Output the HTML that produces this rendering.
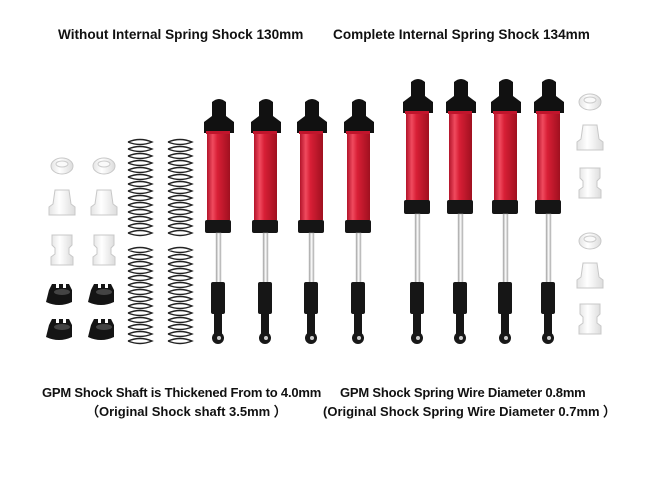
<!DOCTYPE html>
<html><head><style>
html,body{margin:0;padding:0;background:#fff;}
body{width:650px;height:488px;overflow:hidden;position:relative;font-family:"Liberation Sans",sans-serif;}
.t{position:absolute;font-weight:bold;font-size:13px;color:#111;white-space:nowrap;}
</style></head><body>
<svg width="650" height="488" style="position:absolute;left:0;top:0">
<defs>
<linearGradient id="red" x1="0" x2="1">
<stop offset="0" stop-color="#b3132a"/><stop offset="0.25" stop-color="#f04a5e"/><stop offset="0.45" stop-color="#d81f36"/><stop offset="1" stop-color="#a0101f"/>
</linearGradient>
<linearGradient id="rod" x1="0" x2="1"><stop offset="0" stop-color="#999"/><stop offset="0.5" stop-color="#fff"/><stop offset="1" stop-color="#aaa"/></linearGradient>
<linearGradient id="wh" x1="0" x2="1"><stop offset="0" stop-color="#e4e4e4"/><stop offset="0.4" stop-color="#fff"/><stop offset="1" stop-color="#dcdcdc"/></linearGradient>
<g id="spring" fill="none" stroke="#222" stroke-width="1.4">
<path d="M0,0 q12,-5 24,0 q-12,5 -24,0 M0,7 q12,-5 24,0 q-12,5 -24,0 M0,14 q12,-5 24,0 q-12,5 -24,0 M0,21 q12,-5 24,0 q-12,5 -24,0 M0,28 q12,-5 24,0 q-12,5 -24,0 M0,35 q12,-5 24,0 q-12,5 -24,0 M0,42 q12,-5 24,0 q-12,5 -24,0 M0,49 q12,-5 24,0 q-12,5 -24,0 M0,56 q12,-5 24,0 q-12,5 -24,0 M0,63 q12,-5 24,0 q-12,5 -24,0 M0,70 q12,-5 24,0 q-12,5 -24,0 M0,77 q12,-5 24,0 q-12,5 -24,0 M0,84 q12,-5 24,0 q-12,5 -24,0 M0,91 q12,-5 24,0 q-12,5 -24,0"/>
</g>
<g id="white1"><ellipse cx="0" cy="0" rx="11" ry="8" fill="url(#wh)" stroke="#c8c8c8"/><ellipse cx="0" cy="-2" rx="6" ry="3" fill="#fafafa" stroke="#ccc"/></g>
<g id="white2"><path d="M-7,-14 h14 l2,14 l4,3 v8 h-26 v-8 l4,-3z" fill="url(#wh)" stroke="#c8c8c8"/></g>
<g id="white3"><path d="M-10,-16 h20 v10 l-3,3 v6 l4,3 v8 h-22 v-8 l4,-3 v-6 l-3,-3z" fill="url(#wh)" stroke="#c8c8c8"/></g>
<g id="black"><path d="M-13,-8 l3,-6 h4 v4 h3 v-4 h4 v4 h3 v-4 h3 l3,6 v12 q-13,6 -26,0z" fill="#141414"/><ellipse cx="0" cy="-6" rx="8" ry="3" fill="#444"/></g>
</defs>

<use href="#white1" x="62" y="166"/><use href="#white1" x="104" y="166"/>
<use href="#white2" x="62" y="204"/><use href="#white2" x="104" y="204"/>
<use href="#white3" x="62" y="251"/><use href="#white3" x="104" y="251"/>
<use href="#black" x="62" y="298"/><use href="#black" x="104" y="298"/>
<use href="#black" x="62" y="333"/><use href="#black" x="104" y="333"/>

<use href="#spring" x="128" y="142"/><use href="#spring" x="168" y="142"/>
<use href="#spring" x="128" y="250"/><use href="#spring" x="168" y="250"/>

<g id="shortshock">
<path d="M212,102 q7,-6 14,0 v14 l8,6 v11 h-30 v-11 l8,-6z" fill="#111"/>
<rect x="206" y="131" width="24" height="3" fill="#c0152c"/>
<rect x="207" y="134" width="23" height="86" fill="url(#red)"/>
<rect x="205" y="220" width="26" height="13" rx="2" fill="#151515"/>
<rect x="216" y="233" width="5" height="50" fill="url(#rod)" stroke="#bbb" stroke-width="0.5"/>
<rect x="211" y="282" width="14" height="32" rx="2" fill="#161616"/>
<rect x="214" y="314" width="8" height="20" fill="#161616"/>
<circle cx="218" cy="338" r="6" fill="#181818"/>
<circle cx="219" cy="338" r="2" fill="#ccc"/>
</g>
<use href="#shortshock" x="47"/><use href="#shortshock" x="93"/><use href="#shortshock" x="140"/>

<g id="longshock">
<path d="M411,82 q7,-6 14,0 v14 l8,6 v11 h-30 v-11 l8,-6z" fill="#111"/>
<rect x="405" y="111" width="24" height="3" fill="#c0152c"/>
<rect x="406" y="114" width="23" height="87" fill="url(#red)"/>
<rect x="404" y="200" width="26" height="14" rx="2" fill="#151515"/>
<rect x="415" y="214" width="5" height="69" fill="url(#rod)" stroke="#bbb" stroke-width="0.5"/>
<rect x="410" y="282" width="14" height="32" rx="2" fill="#161616"/>
<rect x="413" y="314" width="8" height="20" fill="#161616"/>
<circle cx="417" cy="338" r="6" fill="#181818"/>
<circle cx="418" cy="338" r="2" fill="#ccc"/>
</g>
<use href="#longshock" x="43"/><use href="#longshock" x="88"/><use href="#longshock" x="131"/>

<use href="#white1" x="590" y="102"/>
<use href="#white2" x="590" y="139"/>
<use href="#white3" x="590" y="184"/>
<use href="#white1" x="590" y="241"/>
<use href="#white2" x="590" y="277"/>
<use href="#white3" x="590" y="320"/>
</svg>
<div class="t" style="left:58px;top:27px;font-size:13.6px">Without Internal Spring Shock 130mm</div>
<div class="t" style="left:333px;top:27px;font-size:13.6px">Complete Internal Spring Shock 134mm</div>
<div class="t" style="left:42px;top:385px;letter-spacing:-0.2px">GPM Shock Shaft is Thickened From to 4.0mm</div>
<div class="t" style="left:86px;top:401px">（Original Shock shaft 3.5mm ）</div>
<div class="t" style="left:340px;top:385px;letter-spacing:-0.2px">GPM Shock Spring Wire Diameter 0.8mm</div>
<div class="t" style="left:323px;top:401px">(Original Shock Spring Wire Diameter 0.7mm ）</div>
</body></html>
